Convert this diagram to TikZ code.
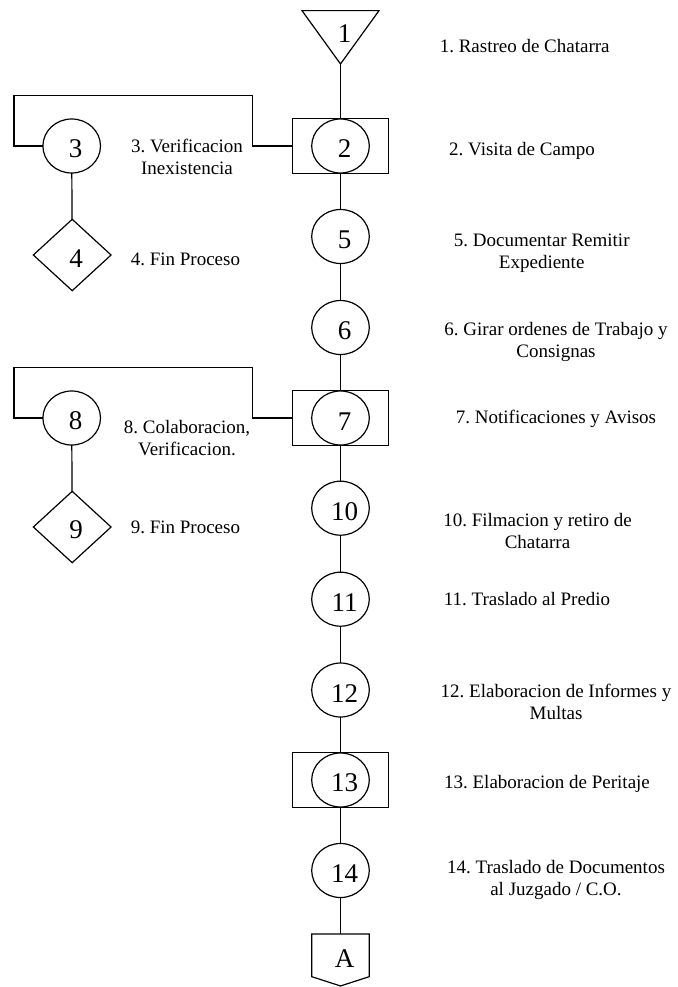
\documentclass[tikz,border=0pt]{standalone}
\usepackage{fontspec}
\setmainfont{Liberation Serif}
\usetikzlibrary{shapes.geometric,calc}
\frenchspacing
% first-line baseline is the node baseline
\newcommand\stacklbl[1]{\begin{tabular}[t]{@{}c@{}}#1\end{tabular}}
\begin{document}
\begin{tikzpicture}[x=1pt,y=-1pt,
  line width=1.2pt,
  every node/.style={inner sep=0pt,outer sep=0pt},
  numfont/.style={font=\fontsize{27}{30}\selectfont, execute at begin node={\hspace*{8pt}}},
  numtext/.style={numfont, text height=24pt},
  opcircle/.style={ellipse, draw, minimum width=57.6pt, minimum height=54pt, numtext},
  inspbox/.style={rectangle, draw, minimum width=96pt, minimum height=55pt},
  endmark/.style={diamond, draw, minimum width=77.7pt, minimum height=71.4pt, numtext},
  caption/.style={font=\fontsize{19}{22}\selectfont, anchor=base},
]
\useasboundingbox (0,0) rectangle (677,987);
\fill[white] (0,0) rectangle (677,987);

% start: inverted triangle
\node[numfont, text depth=8pt, minimum width=77pt, minimum height=53.3pt] (t1) at (340.5,37.3) {1};
\draw (t1.north west) -- (t1.north east) -- (t1.south) -- cycle;

% main column
\node[inspbox] (b2) at (340.5,146) {};
\node[opcircle] (c2) at (340.5,146) {2};
\node[opcircle] (c5) at (340.5,236.5) {5};
\node[opcircle] (c6) at (340.5,327.5) {6};
\node[inspbox] (b7) at (340.5,418) {};
\node[opcircle] (c7) at (340.5,418) {7};
\node[opcircle] (c10) at (340.5,508.2) {10};
\node[opcircle] (c11) at (340.5,599.2) {11};
\node[opcircle] (c12) at (340.5,690) {12};
\node[inspbox] (b13) at (340.5,780) {};
\node[opcircle] (c13) at (340.5,780) {13};
\node[opcircle] (c14) at (340.5,870.5) {14};

% off-page connector
\node[numtext, minimum width=57.6pt, minimum height=42.7pt] (pA) at (340.5,955.3) {A};
\draw (pA.north west) -- (pA.north east) -- (pA.south east)
  -- ($(pA.south)+(0,9.3)$) -- (pA.south west) -- cycle;

% side branches
\node[opcircle] (c3) at (71.7,146) {3};
\node[endmark] (d4) at (72.2,255) {4};
\node[opcircle] (c8) at (71.7,418) {8};
\node[endmark] (d9) at (72.2,527) {9};

% connectors
\draw (t1.south) -- (b2.north);
\draw (b2.south) -- (c5.north);
\draw (c5) -- (c6);
\draw (c6) -- (b7);
\draw (b7) -- (c10);
\draw (c10) -- (c11);
\draw (c11) -- (c12);
\draw (c12) -- (b13);
\draw (b13) -- (c14);
\draw (c14) -- (pA);
\draw (c3) -- (d4);
\draw (c8) -- (d9);
\draw (c3.west) -| ++(-29,-50.5) -| ($(b2.west)+(-40,0)$) -- (b2.west);
\draw (c8.west) -| ++(-29,-50.7) -| ($(b7.west)+(-40,0)$) -- (b7.west);

% captions
\node[caption] (l1) at (524.7,53) {1. Rastreo de Chatarra};
\node[caption] (l2) at (522,156) {2. Visita de Campo};
\node[caption] (l3) at (187,153) {\stacklbl{3. Verificacion\\Inexistencia}};
\node[caption] (l4) at (185.4,265) {4. Fin Proceso};
\node[caption] (l5) at (541.7,246.7) {\stacklbl{5. Documentar Remitir\\Expediente}};
\node[caption] (l6) at (556,335) {\stacklbl{6. Girar ordenes de Trabajo y\\Consignas}};
\node[caption] (l7) at (556,423.3) {7. Notificaciones y Avisos};
\node[caption] (l8) at (187,433.3) {\stacklbl{8. Colaboracion,\\Verificacion.}};
\node[caption] (l9) at (185.4,533.3) {9. Fin Proceso};
\node[caption] (l10) at (537.5,526) {\stacklbl{10. Filmacion y retiro de\\Chatarra}};
\node[caption] (l11) at (527,605) {11. Traslado al Predio};
\node[caption] (l12) at (556,697.5) {\stacklbl{12. Elaboracion de Informes y\\Multas}};
\node[caption] (l13) at (547,788) {13. Elaboracion de Peritaje};
\node[caption] (l14) at (556,873) {\stacklbl{14. Traslado de Documentos\\al Juzgado / C.O.}};
\end{tikzpicture}
\end{document}
